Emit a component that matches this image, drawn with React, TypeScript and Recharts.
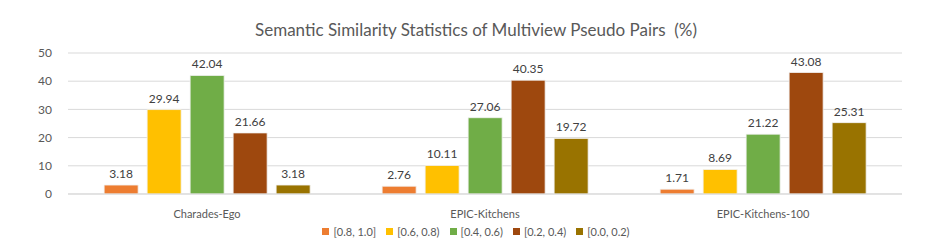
import { BarChart, Bar, XAxis, YAxis, CartesianGrid, LabelList } from 'recharts'

const datasets = ['Charades-Ego', 'EPIC-Kitchens', 'EPIC-Kitchens-100']
const bin08to10 = [3.18, 2.76, 1.71]
const bin06to08 = [29.94, 10.11, 8.69]
const bin04to06 = [42.04, 27.06, 21.22]
const bin02to04 = [21.66, 40.35, 43.08]
const bin00to02 = [3.18, 19.72, 25.31]
const yTicks = [0, 10, 20, 30, 40, 50]

const series = [
  { key: 'a', name: '[0.8, 1.0]', values: bin08to10, color: '#ED7D31' },
  { key: 'b', name: '[0.6, 0.8)', values: bin06to08, color: '#FFC000' },
  { key: 'c', name: '[0.4, 0.6)', values: bin04to06, color: '#70AD47' },
  { key: 'd', name: '[0.2, 0.4)', values: bin02to04, color: '#9E480E' },
  { key: 'e', name: '[0.0, 0.2)', values: bin00to02, color: '#997300' }
]

const data = datasets.map((name, i) => {
  const row: Record<string, string | number> = { name }
  series.forEach((s) => {
    row[s.key] = s.values[i]
  })
  return row
})

const font = 'Lato, "Open Sans", sans-serif'

export default function App() {
  return (
    <div
      style={{
        position: 'absolute',
        left: 0,
        top: 0,
        width: 952,
        height: 250,
        background: '#fff',
        fontFamily: font
      }}
    >
      <div
        style={{
          position: 'absolute',
          top: 19,
          width: 952,
          textAlign: 'center',
          fontSize: 17,
          color: '#595959'
        }}
      >
        Semantic Similarity Statistics of Multiview Pseudo Pairs&nbsp;&nbsp;(%)
      </div>
      <BarChart
        width={952}
        height={250}
        data={data}
        margin={{ top: 53, right: 50, left: 28, bottom: 36 }}
        barCategoryGap="13%"
        barGap={9}
      >
        <CartesianGrid vertical={false} stroke="#d9d9d9" />
        <XAxis
          dataKey="name"
          axisLine={{ stroke: '#d9d9d9' }}
          tickLine={false}
          height={20}
          tickMargin={10}
          tick={{ fill: '#595959', fontSize: 11, fontFamily: font }}
        />
        <YAxis
          domain={[0, 50]}
          ticks={yTicks}
          width={40}
          axisLine={false}
          tickLine={false}
          tickMargin={10}
          tick={{ fill: '#595959', fontSize: 12, fontFamily: font }}
        />
        {series.map((s) => (
          <Bar
            key={s.key}
            dataKey={s.key}
            name={s.name}
            fill={s.color}
            stroke="#f2f2f2"
            strokeWidth={0.8}
            isAnimationActive={false}
          >
            <LabelList
              dataKey={s.key}
              position="top"
              offset={7}
              fill="#404040"
              fontSize={12}
              fontFamily={font}
            />
          </Bar>
        ))}
      </BarChart>
      <div
        style={{
          position: 'absolute',
          top: 225,
          width: 952,
          display: 'flex',
          justifyContent: 'center',
          fontSize: 11,
          color: '#595959'
        }}
      >
        {series.map((s) => (
          <span
            key={s.key}
            style={{ display: 'flex', alignItems: 'center', margin: '0 5px' }}
          >
            <span
              style={{
                width: 7,
                height: 7,
                background: s.color,
                marginRight: 4,
                display: 'inline-block'
              }}
            />
            {s.name}
          </span>
        ))}
      </div>
    </div>
  )
}
